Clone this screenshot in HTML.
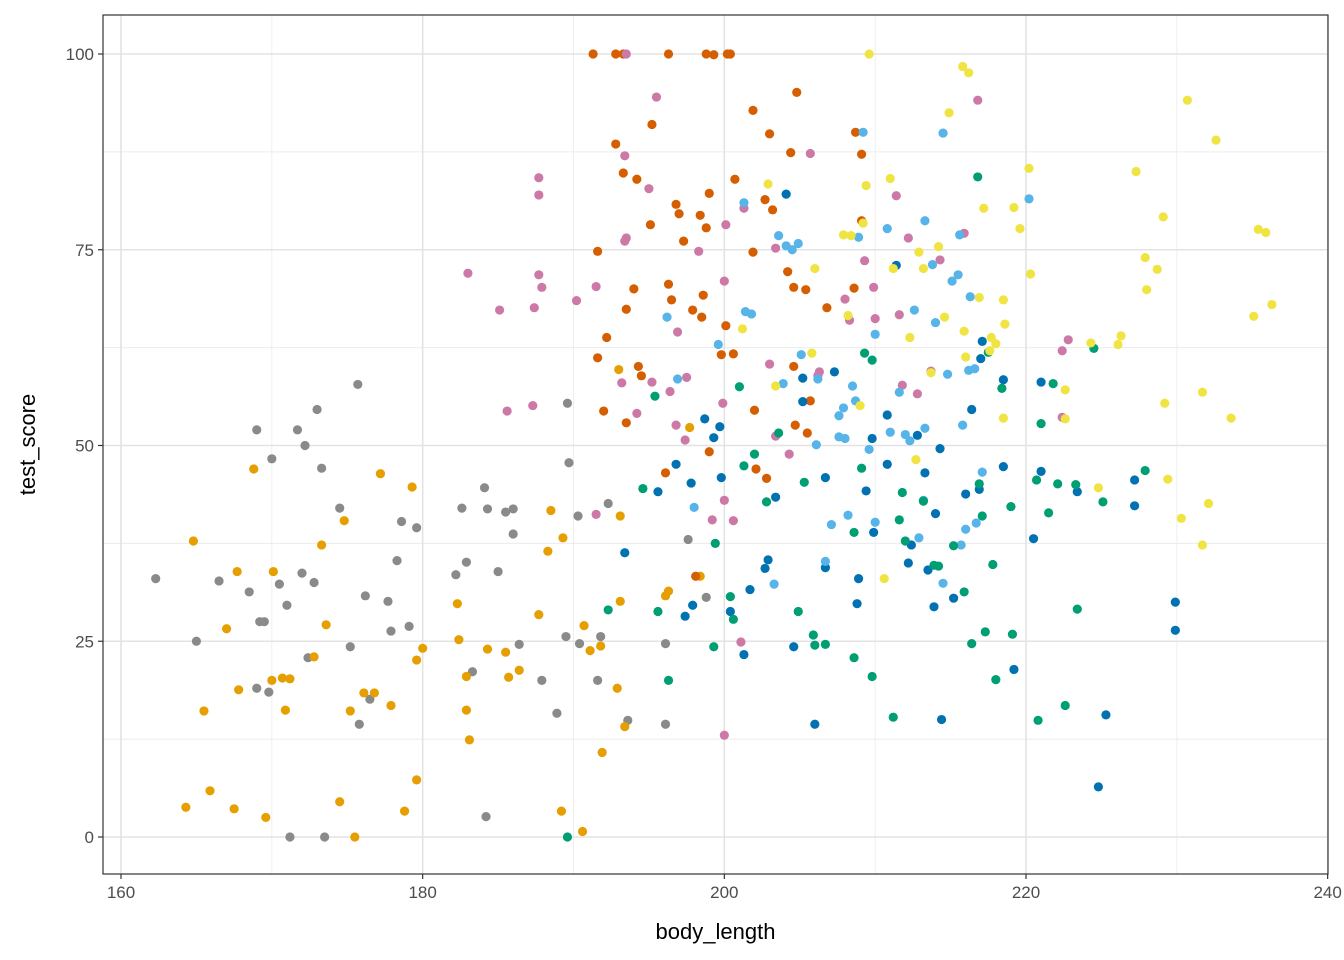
<!DOCTYPE html>
<html><head><meta charset="utf-8"><title>test_score vs body_length</title>
<style>
html,body{margin:0;padding:0;background:#fff;}
svg{display:block;font-family:"Liberation Sans",Arial,sans-serif;}
</style></head>
<body>
<svg id="chart" width="1344" height="960" viewBox="0 0 1344 960"></svg>
<script>
const xTicks=[160,180,200,220,240];
const yTicks=[0,25,50,75,100];
const xMinor=[170,190,210,230];
const yMinor=[12.5,37.5,62.5,87.5];
const seriesNames=['gray','orange','vermillion','pink','blue','skyblue','green','yellow'];
const seriesColors=['#8a8a8a','#E69F00','#D55E00','#CC79A7','#0072B2','#56B4E9','#009E73','#F0E442'];
const grayPts=[[162.3,33],[165,25],[166.5,32.7],[168.5,31.3],[169,19],[169.2,27.5],[169.5,27.5],[169,52],[170,48.3],[169.8,18.5],[170.5,32.3],[171,29.6],[171.2,0],[171.7,52],[172,33.7],[172.2,50],[172.4,22.9],[172.8,32.5],[173,54.6],[173.3,47.1],[173.5,0],[174.5,42],[175.2,24.3],[175.7,57.8],[175.8,14.4],[176.2,30.8],[176.5,17.6],[177.7,30.1],[177.9,26.3],[178.3,35.3],[178.6,40.3],[179.1,26.9],[179.6,39.5],[182.2,33.5],[182.6,42],[182.9,35.1],[183.3,21.1],[184.1,44.6],[184.2,2.6],[184.3,41.9],[185,33.9],[185.5,41.5],[186,41.9],[186,38.7],[186.4,24.6],[187.9,20],[188.9,15.8],[189.5,25.6],[189.6,55.4],[189.7,47.8],[190.3,41],[190.4,24.7],[191.6,20],[191.8,25.6],[192.3,42.6],[193.6,14.9],[196.1,14.4],[196.1,24.7],[197.6,38],[198.8,30.6]];
const orangePts=[[164.3,3.8],[164.8,37.8],[165.5,16.1],[165.9,5.9],[167,26.6],[167.5,3.6],[167.7,33.9],[167.8,18.8],[168.8,47],[169.6,2.5],[170,20],[170.1,33.9],[170.7,20.3],[170.9,16.2],[171.2,20.2],[172.8,23],[173.3,37.3],[173.6,27.1],[174.5,4.5],[174.8,40.4],[175.2,16.1],[175.5,0],[176.1,18.4],[176.8,18.4],[177.2,46.4],[177.9,16.8],[178.8,3.3],[179.3,44.7],[179.6,22.6],[179.6,7.3],[180,24.1],[182.3,29.8],[182.4,25.2],[182.9,20.5],[182.9,16.2],[183.1,12.4],[184.3,24],[185.5,23.6],[185.7,20.4],[186.4,21.3],[187.7,28.4],[188.3,36.5],[188.5,41.7],[189.2,3.3],[189.3,38.2],[190.6,0.7],[190.7,27],[191.1,23.8],[191.8,24.4],[191.9,10.8],[192.9,19],[193,59.7],[193.1,30.1],[193.1,41],[193.4,14.1],[196.1,30.8],[196.3,31.4],[197.7,52.3],[198.4,33.3]];
const vermPts=[[191.3,100],[192.8,100],[193.3,100],[196.3,100],[198.8,100],[199.3,99.9],[200.2,100],[200.4,100],[192.8,88.5],[193.3,84.8],[194.2,84],[195.2,91],[195.1,78.2],[196.8,80.8],[197,79.6],[198.4,79.4],[199,82.2],[198.8,77.8],[197.3,76.1],[191.6,74.8],[193.5,67.4],[194,70],[196.3,70.6],[196.5,68.6],[197.9,67.3],[198.6,69.2],[198.5,66.4],[200.1,65.3],[199.8,61.6],[200.6,61.7],[191.6,61.2],[192.2,63.8],[192,54.4],[193.5,52.9],[194.3,60.1],[194.5,58.9],[196.1,46.5],[199,49.2],[200.7,84],[201.9,74.7],[201.9,92.8],[202.7,81.4],[203,89.8],[203.2,80.1],[204.4,87.4],[204.8,95.1],[204.2,72.2],[204.6,70.2],[205.4,69.9],[206.8,67.6],[208.6,70.1],[208.7,90],[209.1,87.2],[209.1,78.7],[202,54.5],[202.1,47],[202.8,45.8],[204.6,60.1],[204.7,52.6],[205.5,51.6],[205.7,55.7],[198.1,33.3]];
const pinkPts=[[183,72],[185.1,67.3],[185.6,54.4],[187.3,55.1],[187.7,84.2],[187.7,82],[187.7,71.8],[187.9,70.2],[187.4,67.6],[190.2,68.5],[191.5,70.3],[191.5,41.2],[193.2,58],[193.4,76.1],[193.5,76.5],[193.5,100],[193.4,87],[194.2,54.1],[195,82.8],[195.2,58.1],[195.5,94.5],[196.4,56.9],[196.8,52.6],[196.9,64.5],[197.4,50.7],[197.5,58.7],[198.3,74.8],[199.2,40.5],[199.9,55.4],[200,43],[200,71],[200.1,78.2],[200,13],[200.6,40.4],[201.1,24.9],[201.3,80.3],[203.4,75.2],[203.4,51.2],[203,60.4],[204.3,48.9],[205.7,87.3],[206.2,58.9],[206.3,59.4],[208,68.7],[208.3,66],[209.3,73.6],[210,66.2],[209.9,70.2],[211.4,81.9],[211.6,66.7],[211.8,57.7],[212.2,76.5],[212.8,56.6],[213.7,59.5],[214.3,73.7],[215.9,77.1],[216.8,94.1],[222.4,62.1],[222.4,53.6],[222.8,63.5]];
const bluePts=[[193.4,36.3],[195.6,44.1],[196.8,47.6],[197.4,28.2],[197.9,29.6],[197.8,45.2],[198.7,53.4],[199.3,51],[199.7,52.4],[199.8,45.9],[200.4,28.8],[201.3,23.3],[201.7,31.6],[202.7,34.3],[202.9,35.4],[203.4,43.4],[204.1,82.1],[204.6,24.3],[205.2,55.6],[205.2,58.6],[206,14.4],[206.7,34.4],[206.7,45.9],[207.3,59.4],[208.8,29.8],[208.9,33],[209.4,44.2],[209.8,50.9],[209.9,38.9],[210.8,53.9],[210.8,47.6],[211.4,73],[212.2,35],[212.4,37.3],[212.8,51.3],[213.3,46.5],[213.5,34.1],[213.9,29.4],[214,41.3],[214.3,49.6],[214.4,15],[215.2,30.5],[216,43.8],[216.4,54.6],[216.9,44.4],[217,61.1],[217.1,63.3],[218.5,58.4],[218.5,47.3],[219.2,21.4],[220.5,38.1],[221,58.1],[221,46.7],[223.4,44.1],[224.8,6.4],[225.3,15.6],[227.2,45.6],[227.2,42.3],[229.9,30],[229.9,26.4]];
const skyPts=[[196.2,66.4],[196.9,58.5],[198,42.1],[199.6,62.9],[201.3,81],[201.4,67.1],[201.8,66.8],[203.3,32.3],[203.6,76.8],[203.9,57.9],[204.1,75.5],[204.5,75],[204.9,75.8],[205.1,61.6],[206.1,50.1],[206.2,58.5],[206.7,35.2],[207.1,39.9],[207.6,51.1],[207.6,53.8],[207.9,54.8],[208,50.9],[208.2,41.1],[208.5,57.6],[208.9,76.6],[208.7,55.7],[209.2,90],[209.6,49.5],[210,64.2],[210,40.2],[210.8,77.7],[211,51.7],[211.6,56.8],[212.3,50.6],[212.6,67.3],[212.9,38.2],[213.2,43],[213.3,78.7],[213.3,52.2],[213.8,73.1],[214,65.7],[214.5,89.9],[214.5,32.4],[214.8,59.1],[215.1,71],[215.5,71.8],[215.6,76.9],[215.7,37.3],[215.8,52.6],[216,39.3],[216.2,59.6],[216.3,69],[216.6,59.8],[216.7,40.1],[217.1,46.6],[220.2,81.5],[212,51.4]];
const greenPts=[[192.3,29],[189.6,0],[194.6,44.5],[195.4,56.3],[195.6,28.8],[196.3,20],[199.3,24.3],[199.4,37.5],[200.4,30.7],[200.6,27.8],[201,57.5],[201.3,47.4],[202,48.9],[202.8,42.8],[203.6,51.6],[204.9,28.8],[205.3,45.3],[205.9,25.8],[206,24.5],[206.7,24.6],[208.6,22.9],[208.6,38.9],[209.1,47.1],[209.3,61.8],[209.8,20.5],[209.8,60.9],[211.2,15.3],[211.6,40.5],[211.8,44],[212,37.8],[213.2,42.9],[213.9,34.7],[214.2,34.6],[215.2,37.2],[215.9,31.3],[216.4,24.7],[216.8,84.3],[216.9,45.1],[217.1,41],[217.3,26.2],[217.5,61.9],[217.8,34.8],[218,20.1],[218.4,57.3],[219,42.2],[219.1,25.9],[220.8,14.9],[221,52.8],[221.5,41.4],[221.8,57.9],[222.1,45.1],[222.6,16.8],[223.3,45],[223.4,29.1],[224.5,62.4],[225.1,42.8],[227.9,46.8],[220.7,45.6]];
const yellowPts=[[202.9,83.4],[203.4,57.6],[201.2,64.9],[205.8,61.8],[206,72.6],[207.9,76.9],[208.2,66.6],[208.4,76.8],[209,55.1],[209.2,78.4],[209.4,83.2],[209.6,100],[210.6,33],[211,84.1],[211.2,72.6],[212.3,63.8],[212.7,48.2],[212.9,74.7],[213.2,72.6],[213.7,59.3],[214.2,75.4],[214.6,66.4],[214.9,92.5],[215.8,98.4],[215.9,64.6],[216,61.3],[216.2,97.6],[216.9,68.9],[217.2,80.3],[217.6,62.1],[217.7,63.8],[218,63],[218.5,68.6],[218.6,65.5],[218.5,53.5],[219.2,80.4],[219.6,77.7],[220.2,85.4],[220.3,71.9],[222.6,57.1],[222.6,53.4],[224.3,63.1],[224.8,44.6],[226.1,62.9],[226.3,64],[227.3,85],[227.9,74],[228,69.9],[228.7,72.5],[229.1,79.2],[229.2,55.4],[229.4,45.7],[230.3,40.7],[230.7,94.1],[231.7,56.8],[231.7,37.3],[232.1,42.6],[232.6,89],[233.6,53.5],[235.1,66.5],[235.4,77.6],[235.9,77.2],[236.3,68]];
const allSeries=[grayPts,orangePts,vermPts,pinkPts,bluePts,skyPts,greenPts,yellowPts];

const NS='http://www.w3.org/2000/svg';
const svg=document.getElementById('chart');
const L=103,R=1328,T=15,B=874;
const X=v=>121+(v-160)*(1026-121)/60;
const Y=v=>837-v*(837-54)/100;
function mk(tag,attrs,parent){const e=document.createElementNS(NS,tag);for(const k in attrs)e.setAttribute(k,attrs[k]);(parent||svg).appendChild(e);return e;}

const panel=mk('rect',{x:L,y:T,width:R-L,height:B-T,fill:'#fff'});


const grid=mk('g',{});


xMinor.forEach(v=>mk('line',{x1:X(v),x2:X(v),y1:T,y2:B,stroke:'#ececec','stroke-width':0.9},grid));
yMinor.forEach(v=>mk('line',{x1:L,x2:R,y1:Y(v),y2:Y(v),stroke:'#ececec','stroke-width':0.9},grid));
xTicks.forEach(v=>mk('line',{x1:X(v),x2:X(v),y1:T,y2:B,stroke:'#e3e3e3','stroke-width':1.6},grid));
yTicks.forEach(v=>mk('line',{x1:L,x2:R,y1:Y(v),y2:Y(v),stroke:'#e3e3e3','stroke-width':1.6},grid));

allSeries.forEach((pts,si)=>{
  const g=mk('g',{fill:seriesColors[si]});
  
  
  pts.forEach(p=>{
    const c=mk('circle',{cx:X(p[0]),cy:Y(p[1]),r:4.6},g);
    
    
  });
});

const border=mk('rect',{x:L,y:T,width:R-L,height:B-T,fill:'none',stroke:'#333','stroke-width':1.2});



xTicks.forEach(v=>{
  mk('line',{x1:X(v),x2:X(v),y1:B,y2:B+5,stroke:'#333','stroke-width':1.2});
  const t=mk('text',{x:X(v),y:B+24,'text-anchor':'middle','font-size':17,fill:'#4d4d4d'});
  t.textContent=v;
  
  
});
yTicks.forEach(v=>{
  mk('line',{x1:L-5,x2:L,y1:Y(v),y2:Y(v),stroke:'#333','stroke-width':1.2});
  const t=mk('text',{x:L-9,y:Y(v)+6,'text-anchor':'end','font-size':17,fill:'#4d4d4d'});
  t.textContent=v;
  
  
});
const xt=mk('text',{x:(L+R)/2,y:939,'text-anchor':'middle','font-size':22,fill:'#000'});
xt.textContent='body_length';


const yt=mk('text',{x:0,y:0,'text-anchor':'middle','font-size':22,fill:'#000',transform:'translate(35,'+((T+B)/2)+') rotate(-90)'});
yt.textContent='test_score';


</script>
</body></html>
